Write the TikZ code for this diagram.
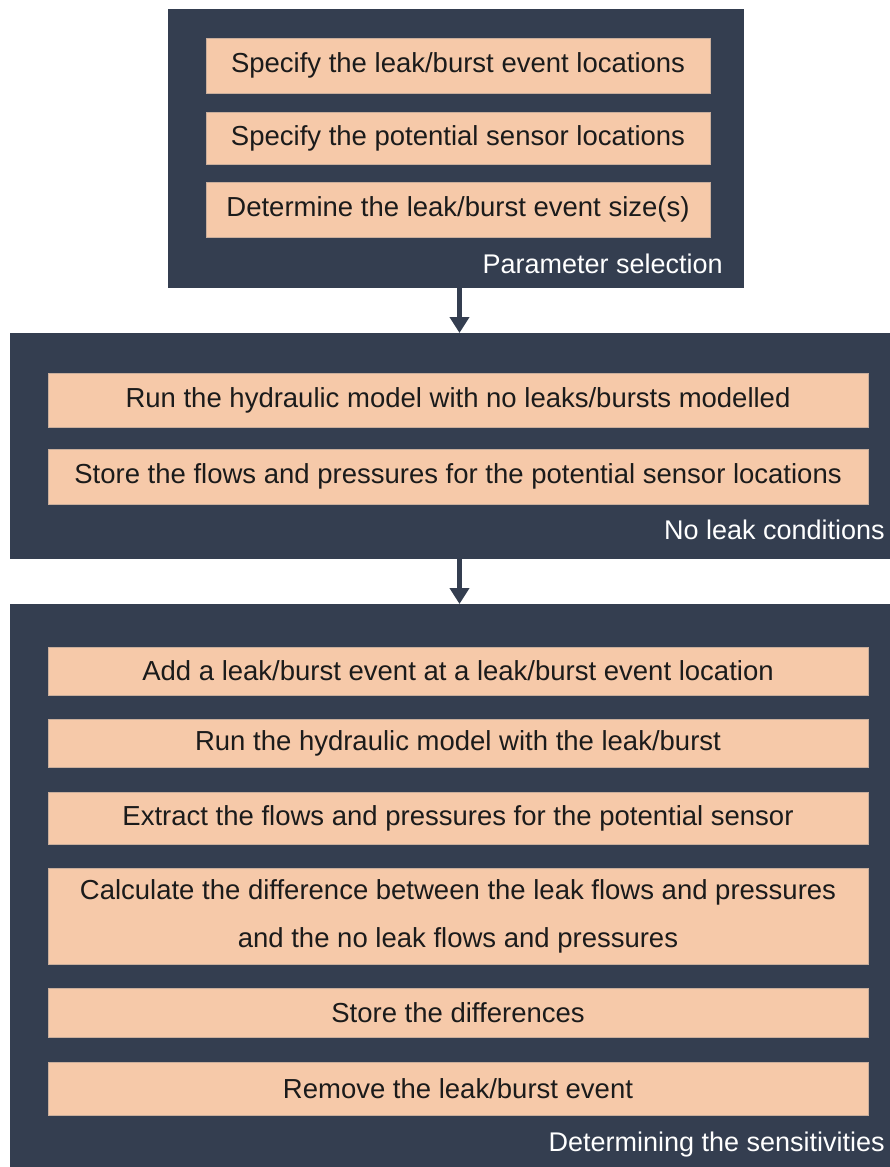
\documentclass[tikz,border=0pt]{standalone}
\usepackage{fontspec}
\setmainfont{Liberation Sans}
\usetikzlibrary{arrows.meta}
\definecolor{panelcol}{HTML}{343E50}
\definecolor{peach}{HTML}{F6C9A9}
\definecolor{peachedge}{HTML}{C9AE9C}
\definecolor{ink}{HTML}{1B1B1B}
\tikzset{
  panel/.style={fill=panelcol, draw=none, inner sep=0pt, outer sep=0pt, anchor=north west},
  stepbox/.style={fill=peach, draw=peachedge, line width=0.8pt, inner sep=0pt, outer sep=0pt,
    anchor=north west, text=ink, font=\fontsize{27.5}{32}\selectfont, align=center},
  paneltitle/.style={text=white, inner sep=0pt, anchor=east, font=\fontsize{27}{31}\selectfont},
  flow/.style={draw=panelcol, line width=5pt, -{Triangle[width=19pt,length=16pt]}}
}
\begin{document}
\begin{tikzpicture}[x=1pt,y=-1pt]
\useasboundingbox (0,0) rectangle (890,1167);

% panels
\node[panel, minimum width=576pt, minimum height=279pt] (p1) at (168,9) {};
\node[panel, minimum width=880pt, minimum height=226pt] (p2) at (10,333) {};
\node[panel, minimum width=880pt, minimum height=563pt] (p3) at (10,604) {};

% parameter selection
\node[stepbox, minimum width=504pt, minimum height=55pt] (a1) at (206,38) {Specify the leak/burst event locations};
\node[stepbox, minimum width=504pt, minimum height=52pt] (a2) at (206,112) {Specify the potential sensor locations};
\node[stepbox, minimum width=504pt, minimum height=55pt] (a3) at (206,182) {Determine the leak/burst event size(s)};
\node[paneltitle] (t1) at (723,264) {Parameter selection};

% no leak conditions
\node[stepbox, minimum width=820pt, minimum height=54pt] (b1) at (48,373) {Run the hydraulic model with no leaks/bursts modelled};
\node[stepbox, minimum width=820pt, minimum height=55pt] (b2) at (48,449) {Store the flows and pressures for the potential sensor locations};
\node[paneltitle] (t2) at (885,530) {No leak conditions};

% determining the sensitivities
\node[stepbox, minimum width=820pt, minimum height=48pt] (c1) at (48,647) {Add a leak/burst event at a leak/burst event location};
\node[stepbox, minimum width=820pt, minimum height=48pt] (c2) at (48,719) {Run the hydraulic model with the leak/burst};
\node[stepbox, minimum width=820pt, minimum height=52pt] (c3) at (48,792) {Extract the flows and pressures for the potential sensor};
\node[stepbox, minimum width=820pt, minimum height=96pt, font=\fontsize{27.5}{48}\selectfont] (c4) at (48,868) {Calculate the difference between the leak flows and pressures\\and the no leak flows and pressures};
\node[stepbox, minimum width=820pt, minimum height=49pt] (c5) at (48,988) {Store the differences};
\node[stepbox, minimum width=820pt, minimum height=53pt] (c6) at (48,1062) {Remove the leak/burst event};
\node[paneltitle] (t3) at (885,1145) {Determining the sensitivities};

% connectors
\draw[flow] ([xshift=3.5pt]p1.south) -- ([xshift=3.5pt]p1.south |- p2.north);
\draw[flow] ([xshift=9.5pt]p2.south) -- ([xshift=9.5pt]p2.south |- p3.north);
\end{tikzpicture}
\end{document}
